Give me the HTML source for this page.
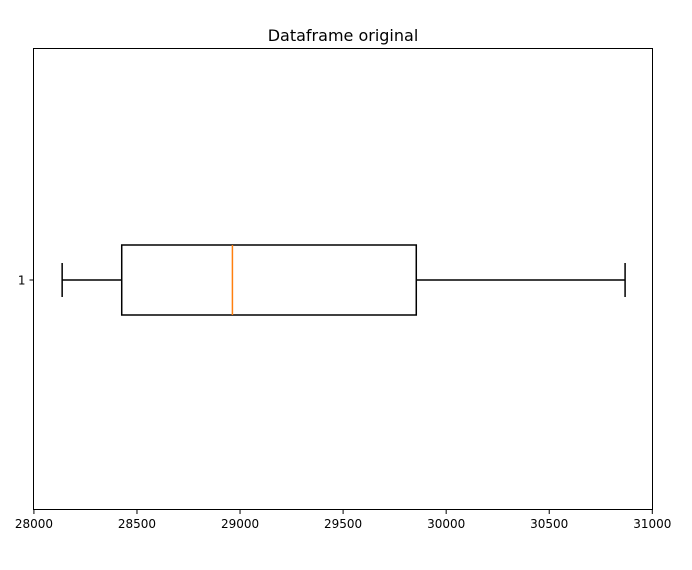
<!DOCTYPE html>
<html><head><meta charset="utf-8"><style>
body{margin:0;background:#fff;}
svg text{font-family:"DejaVu Sans","Liberation Sans",sans-serif;}
</style></head><body>
<svg id="chart" width="692" height="565" viewBox="0 0 692 565">
<text x="343" y="41" font-size="16" text-anchor="middle">Dataframe original</text>
<g id="marks"></g>
<rect x="33.5" y="48.5" width="619" height="461" fill="none" stroke="#000" stroke-width="1"/>
<g id="axes"></g>
</svg>
<script>
const categories = ["1"];
const whiskerLow = [28137];
const q1 = [28426];
const median = [28963];
const q3 = [29855];
const whiskerHigh = [30868];
const xTicks = [28000, 28500, 29000, 29500, 30000, 30500, 31000];

const X0=33.5, X1=652.5, D0=27998, D1=31001;
const sx = v => X0 + (v-D0)/(D1-D0)*(X1-X0);
const sy = i => 280;
const NS="http://www.w3.org/2000/svg";
const marks=document.getElementById('marks'), axes=document.getElementById('axes');
function mk(tag, attrs, parent){const e=document.createElementNS(NS,tag);for(const k in attrs)e.setAttribute(k,attrs[k]);parent.appendChild(e);return e;}

categories.forEach((c,i)=>{
  const y=sy(i), h=35, cap=17;
  let e;
  e=mk('line',{x1:sx(whiskerLow[i]),x2:sx(q1[i]),y1:y,y2:y,stroke:'#000','stroke-width':1.5},marks);
  
  
  e=mk('line',{x1:sx(q3[i]),x2:sx(whiskerHigh[i]),y1:y,y2:y,stroke:'#000','stroke-width':1.5},marks);
  
  
  e=mk('line',{x1:sx(whiskerLow[i]),x2:sx(whiskerLow[i]),y1:y-cap,y2:y+cap,stroke:'#000','stroke-width':1.5},marks);
  
  
  e=mk('line',{x1:sx(whiskerHigh[i]),x2:sx(whiskerHigh[i]),y1:y-cap,y2:y+cap,stroke:'#000','stroke-width':1.5},marks);
  
  
  e=mk('rect',{x:sx(q1[i]),y:y-h,width:sx(q3[i])-sx(q1[i]),height:2*h,fill:'none',stroke:'#000','stroke-width':1.5},marks);
  
  
  e=mk('line',{x1:sx(median[i]),x2:sx(median[i]),y1:y-h,y2:y+h,stroke:'#ff7f0e','stroke-width':1.5},marks);
  
  
  e=mk('line',{x1:X0-4,x2:X0,y1:y,y2:y,stroke:'#000','stroke-width':1},axes);
  
  
  e=mk('text',{x:X0-8,y:y+4.5,'font-size':12,'text-anchor':'end'},axes);
  e.textContent=c;
  
  
});
xTicks.forEach(t=>{
  const x=sx(t);
  let e=mk('line',{x1:x,x2:x,y1:509.5,y2:514,stroke:'#000','stroke-width':1},axes);
  
  
  e=mk('text',{x:x,y:528,'font-size':12,'text-anchor':'middle'},axes);
  e.textContent=t;
  
  
});
</script>
</body></html>
